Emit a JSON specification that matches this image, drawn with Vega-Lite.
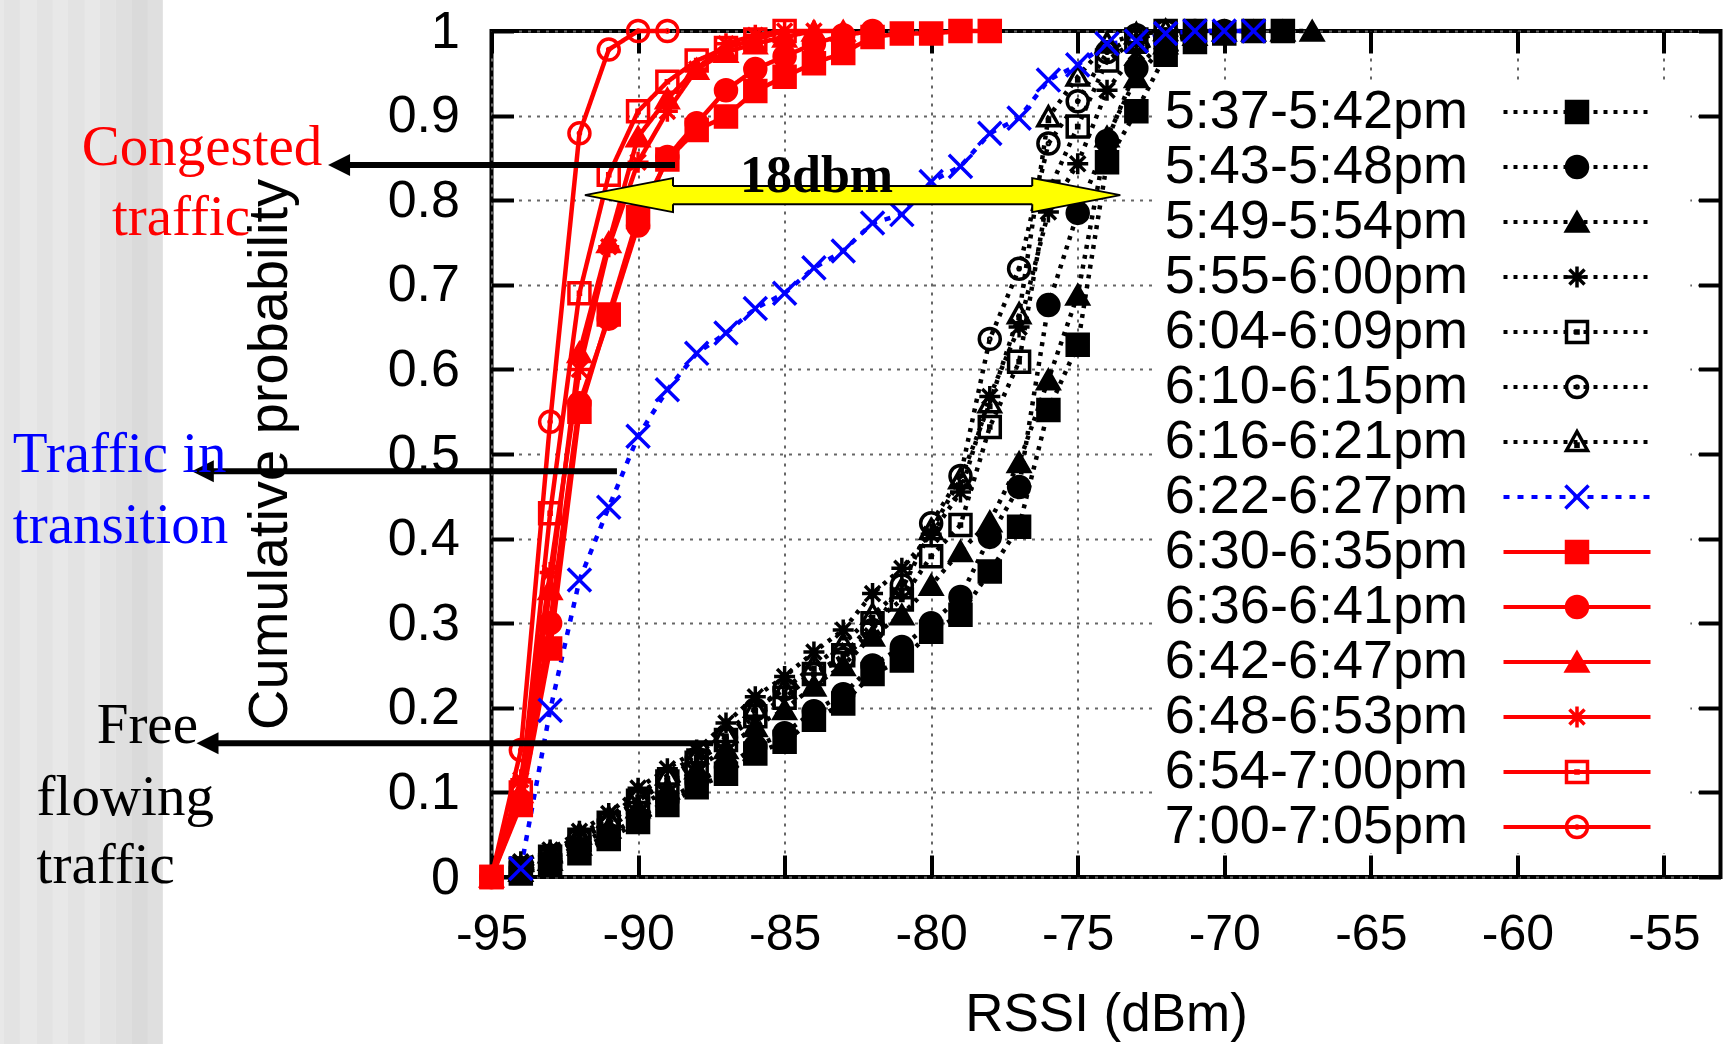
{
"$schema": "https://vega.github.io/schema/vega-lite/v6.json",
"width": 1229,
"height": 846,
"autosize": {"type": "none"},
"padding": {"left": 491.5, "top": 31, "right": 3.5, "bottom": 167},
"background": "#ffffff",
"config": {
  "view": {"stroke": "#000000", "strokeWidth": 4},
  "axis": {"labelFont": "Liberation Sans", "titleFont": "Liberation Sans", "labelColor": "#000000", "titleColor": "#000000", "tickColor": "#000000", "tickWidth": 4, "tickSize": -22, "domain": false, "labelFlush": false, "labelOverlap": false},
  "legend": {"labelFont": "Liberation Sans"}
},
"datasets": {
  "cdf": [
    {"s":"5:37-5:42pm","x":-94,"y":0.004},{"s":"5:37-5:42pm","x":-93,"y":0.014},{"s":"5:37-5:42pm","x":-92,"y":0.028},{"s":"5:37-5:42pm","x":-91,"y":0.045},{"s":"5:37-5:42pm","x":-90,"y":0.065},{"s":"5:37-5:42pm","x":-89,"y":0.085},{"s":"5:37-5:42pm","x":-88,"y":0.106},{"s":"5:37-5:42pm","x":-87,"y":0.122},{"s":"5:37-5:42pm","x":-86,"y":0.146},{"s":"5:37-5:42pm","x":-85,"y":0.16},{"s":"5:37-5:42pm","x":-84,"y":0.186},{"s":"5:37-5:42pm","x":-83,"y":0.205},{"s":"5:37-5:42pm","x":-82,"y":0.24},{"s":"5:37-5:42pm","x":-81,"y":0.256},{"s":"5:37-5:42pm","x":-80,"y":0.29},{"s":"5:37-5:42pm","x":-79,"y":0.31},{"s":"5:37-5:42pm","x":-78,"y":0.361},{"s":"5:37-5:42pm","x":-77,"y":0.414},{"s":"5:37-5:42pm","x":-76,"y":0.552},{"s":"5:37-5:42pm","x":-75,"y":0.629},{"s":"5:37-5:42pm","x":-74,"y":0.845},{"s":"5:37-5:42pm","x":-73,"y":0.905},{"s":"5:37-5:42pm","x":-72,"y":0.972},{"s":"5:37-5:42pm","x":-71,"y":0.987},{"s":"5:37-5:42pm","x":-70,"y":0.997},{"s":"5:37-5:42pm","x":-69,"y":1},{"s":"5:37-5:42pm","x":-68,"y":1},
    {"s":"5:43-5:48pm","x":-94,"y":0.005},{"s":"5:43-5:48pm","x":-93,"y":0.018},{"s":"5:43-5:48pm","x":-92,"y":0.033},{"s":"5:43-5:48pm","x":-91,"y":0.05},{"s":"5:43-5:48pm","x":-90,"y":0.07},{"s":"5:43-5:48pm","x":-89,"y":0.09},{"s":"5:43-5:48pm","x":-88,"y":0.112},{"s":"5:43-5:48pm","x":-87,"y":0.13},{"s":"5:43-5:48pm","x":-86,"y":0.154},{"s":"5:43-5:48pm","x":-85,"y":0.17},{"s":"5:43-5:48pm","x":-84,"y":0.196},{"s":"5:43-5:48pm","x":-83,"y":0.216},{"s":"5:43-5:48pm","x":-82,"y":0.25},{"s":"5:43-5:48pm","x":-81,"y":0.272},{"s":"5:43-5:48pm","x":-80,"y":0.3},{"s":"5:43-5:48pm","x":-79,"y":0.331},{"s":"5:43-5:48pm","x":-78,"y":0.402},{"s":"5:43-5:48pm","x":-77,"y":0.461},{"s":"5:43-5:48pm","x":-76,"y":0.676},{"s":"5:43-5:48pm","x":-75,"y":0.785},{"s":"5:43-5:48pm","x":-74,"y":0.87},{"s":"5:43-5:48pm","x":-73,"y":0.956},{"s":"5:43-5:48pm","x":-72,"y":0.99},{"s":"5:43-5:48pm","x":-71,"y":1},{"s":"5:43-5:48pm","x":-70,"y":1},
    {"s":"5:49-5:54pm","x":-94,"y":0.007},{"s":"5:49-5:54pm","x":-93,"y":0.02},{"s":"5:49-5:54pm","x":-92,"y":0.038},{"s":"5:49-5:54pm","x":-91,"y":0.058},{"s":"5:49-5:54pm","x":-90,"y":0.082},{"s":"5:49-5:54pm","x":-89,"y":0.104},{"s":"5:49-5:54pm","x":-88,"y":0.128},{"s":"5:49-5:54pm","x":-87,"y":0.152},{"s":"5:49-5:54pm","x":-86,"y":0.178},{"s":"5:49-5:54pm","x":-85,"y":0.198},{"s":"5:49-5:54pm","x":-84,"y":0.226},{"s":"5:49-5:54pm","x":-83,"y":0.25},{"s":"5:49-5:54pm","x":-82,"y":0.285},{"s":"5:49-5:54pm","x":-81,"y":0.31},{"s":"5:49-5:54pm","x":-80,"y":0.345},{"s":"5:49-5:54pm","x":-79,"y":0.385},{"s":"5:49-5:54pm","x":-78,"y":0.42},{"s":"5:49-5:54pm","x":-77,"y":0.49},{"s":"5:49-5:54pm","x":-76,"y":0.588},{"s":"5:49-5:54pm","x":-75,"y":0.688},{"s":"5:49-5:54pm","x":-74,"y":0.875},{"s":"5:49-5:54pm","x":-73,"y":0.945},{"s":"5:49-5:54pm","x":-72,"y":0.985},{"s":"5:49-5:54pm","x":-71,"y":0.995},{"s":"5:49-5:54pm","x":-70,"y":1},{"s":"5:49-5:54pm","x":-69,"y":1},{"s":"5:49-5:54pm","x":-68,"y":1},{"s":"5:49-5:54pm","x":-67,"y":1},
    {"s":"5:55-6:00pm","x":-94,"y":0.018},{"s":"5:55-6:00pm","x":-93,"y":0.032},{"s":"5:55-6:00pm","x":-92,"y":0.054},{"s":"5:55-6:00pm","x":-91,"y":0.075},{"s":"5:55-6:00pm","x":-90,"y":0.105},{"s":"5:55-6:00pm","x":-89,"y":0.128},{"s":"5:55-6:00pm","x":-88,"y":0.15},{"s":"5:55-6:00pm","x":-87,"y":0.182},{"s":"5:55-6:00pm","x":-86,"y":0.213},{"s":"5:55-6:00pm","x":-85,"y":0.237},{"s":"5:55-6:00pm","x":-84,"y":0.266},{"s":"5:55-6:00pm","x":-83,"y":0.292},{"s":"5:55-6:00pm","x":-82,"y":0.335},{"s":"5:55-6:00pm","x":-81,"y":0.365},{"s":"5:55-6:00pm","x":-80,"y":0.405},{"s":"5:55-6:00pm","x":-79,"y":0.455},{"s":"5:55-6:00pm","x":-78,"y":0.568},{"s":"5:55-6:00pm","x":-77,"y":0.65},{"s":"5:55-6:00pm","x":-76,"y":0.786},{"s":"5:55-6:00pm","x":-75,"y":0.843},{"s":"5:55-6:00pm","x":-74,"y":0.93},{"s":"5:55-6:00pm","x":-73,"y":0.975},{"s":"5:55-6:00pm","x":-72,"y":0.992},{"s":"5:55-6:00pm","x":-71,"y":1},{"s":"5:55-6:00pm","x":-70,"y":1},
    {"s":"6:04-6:09pm","x":-94,"y":0.01},{"s":"6:04-6:09pm","x":-93,"y":0.024},{"s":"6:04-6:09pm","x":-92,"y":0.044},{"s":"6:04-6:09pm","x":-91,"y":0.064},{"s":"6:04-6:09pm","x":-90,"y":0.09},{"s":"6:04-6:09pm","x":-89,"y":0.113},{"s":"6:04-6:09pm","x":-88,"y":0.135},{"s":"6:04-6:09pm","x":-87,"y":0.162},{"s":"6:04-6:09pm","x":-86,"y":0.19},{"s":"6:04-6:09pm","x":-85,"y":0.212},{"s":"6:04-6:09pm","x":-84,"y":0.24},{"s":"6:04-6:09pm","x":-83,"y":0.262},{"s":"6:04-6:09pm","x":-82,"y":0.3},{"s":"6:04-6:09pm","x":-81,"y":0.328},{"s":"6:04-6:09pm","x":-80,"y":0.379},{"s":"6:04-6:09pm","x":-79,"y":0.416},{"s":"6:04-6:09pm","x":-78,"y":0.532},{"s":"6:04-6:09pm","x":-77,"y":0.609},{"s":"6:04-6:09pm","x":-76,"y":0.81},{"s":"6:04-6:09pm","x":-75,"y":0.887},{"s":"6:04-6:09pm","x":-74,"y":0.965},{"s":"6:04-6:09pm","x":-73,"y":0.99},{"s":"6:04-6:09pm","x":-72,"y":1},{"s":"6:04-6:09pm","x":-71,"y":1},
    {"s":"6:10-6:15pm","x":-94,"y":0.01},{"s":"6:10-6:15pm","x":-93,"y":0.025},{"s":"6:10-6:15pm","x":-92,"y":0.046},{"s":"6:10-6:15pm","x":-91,"y":0.066},{"s":"6:10-6:15pm","x":-90,"y":0.092},{"s":"6:10-6:15pm","x":-89,"y":0.116},{"s":"6:10-6:15pm","x":-88,"y":0.14},{"s":"6:10-6:15pm","x":-87,"y":0.165},{"s":"6:10-6:15pm","x":-86,"y":0.198},{"s":"6:10-6:15pm","x":-85,"y":0.222},{"s":"6:10-6:15pm","x":-84,"y":0.24},{"s":"6:10-6:15pm","x":-83,"y":0.258},{"s":"6:10-6:15pm","x":-82,"y":0.292},{"s":"6:10-6:15pm","x":-81,"y":0.345},{"s":"6:10-6:15pm","x":-80,"y":0.418},{"s":"6:10-6:15pm","x":-79,"y":0.474},{"s":"6:10-6:15pm","x":-78,"y":0.636},{"s":"6:10-6:15pm","x":-77,"y":0.719},{"s":"6:10-6:15pm","x":-76,"y":0.867},{"s":"6:10-6:15pm","x":-75,"y":0.917},{"s":"6:10-6:15pm","x":-74,"y":0.975},{"s":"6:10-6:15pm","x":-73,"y":0.995},{"s":"6:10-6:15pm","x":-72,"y":1},
    {"s":"6:16-6:21pm","x":-94,"y":0.012},{"s":"6:16-6:21pm","x":-93,"y":0.028},{"s":"6:16-6:21pm","x":-92,"y":0.05},{"s":"6:16-6:21pm","x":-91,"y":0.07},{"s":"6:16-6:21pm","x":-90,"y":0.098},{"s":"6:16-6:21pm","x":-89,"y":0.12},{"s":"6:16-6:21pm","x":-88,"y":0.145},{"s":"6:16-6:21pm","x":-87,"y":0.17},{"s":"6:16-6:21pm","x":-86,"y":0.2},{"s":"6:16-6:21pm","x":-85,"y":0.222},{"s":"6:16-6:21pm","x":-84,"y":0.25},{"s":"6:16-6:21pm","x":-83,"y":0.275},{"s":"6:16-6:21pm","x":-82,"y":0.31},{"s":"6:16-6:21pm","x":-81,"y":0.34},{"s":"6:16-6:21pm","x":-80,"y":0.41},{"s":"6:16-6:21pm","x":-79,"y":0.47},{"s":"6:16-6:21pm","x":-78,"y":0.56},{"s":"6:16-6:21pm","x":-77,"y":0.665},{"s":"6:16-6:21pm","x":-76,"y":0.898},{"s":"6:16-6:21pm","x":-75,"y":0.946},{"s":"6:16-6:21pm","x":-74,"y":0.985},{"s":"6:16-6:21pm","x":-73,"y":0.996},{"s":"6:16-6:21pm","x":-72,"y":1},
    {"s":"6:22-6:27pm","x":-94,"y":0.01},{"s":"6:22-6:27pm","x":-93,"y":0.197},{"s":"6:22-6:27pm","x":-92,"y":0.351},{"s":"6:22-6:27pm","x":-91,"y":0.437},{"s":"6:22-6:27pm","x":-90,"y":0.521},{"s":"6:22-6:27pm","x":-89,"y":0.576},{"s":"6:22-6:27pm","x":-88,"y":0.619},{"s":"6:22-6:27pm","x":-87,"y":0.643},{"s":"6:22-6:27pm","x":-86,"y":0.672},{"s":"6:22-6:27pm","x":-85,"y":0.69},{"s":"6:22-6:27pm","x":-84,"y":0.72},{"s":"6:22-6:27pm","x":-83,"y":0.74},{"s":"6:22-6:27pm","x":-82,"y":0.773},{"s":"6:22-6:27pm","x":-81,"y":0.783},{"s":"6:22-6:27pm","x":-80,"y":0.822},{"s":"6:22-6:27pm","x":-79,"y":0.84},{"s":"6:22-6:27pm","x":-78,"y":0.879},{"s":"6:22-6:27pm","x":-77,"y":0.897},{"s":"6:22-6:27pm","x":-76,"y":0.942},{"s":"6:22-6:27pm","x":-75,"y":0.96},{"s":"6:22-6:27pm","x":-74,"y":0.985},{"s":"6:22-6:27pm","x":-73,"y":0.988},{"s":"6:22-6:27pm","x":-72,"y":0.997},{"s":"6:22-6:27pm","x":-71,"y":1},{"s":"6:22-6:27pm","x":-70,"y":1},{"s":"6:22-6:27pm","x":-69,"y":1},
    {"s":"6:30-6:35pm","x":-95,"y":0},{"s":"6:30-6:35pm","x":-94,"y":0.085},{"s":"6:30-6:35pm","x":-93,"y":0.27},{"s":"6:30-6:35pm","x":-92,"y":0.55},{"s":"6:30-6:35pm","x":-91,"y":0.665},{"s":"6:30-6:35pm","x":-90,"y":0.78},{"s":"6:30-6:35pm","x":-89,"y":0.848},{"s":"6:30-6:35pm","x":-88,"y":0.883},{"s":"6:30-6:35pm","x":-87,"y":0.899},{"s":"6:30-6:35pm","x":-86,"y":0.929},{"s":"6:30-6:35pm","x":-85,"y":0.946},{"s":"6:30-6:35pm","x":-84,"y":0.962},{"s":"6:30-6:35pm","x":-83,"y":0.974},{"s":"6:30-6:35pm","x":-82,"y":0.993},{"s":"6:30-6:35pm","x":-81,"y":0.997},{"s":"6:30-6:35pm","x":-80,"y":0.997},{"s":"6:30-6:35pm","x":-79,"y":1},{"s":"6:30-6:35pm","x":-78,"y":1},
    {"s":"6:36-6:41pm","x":-95,"y":0},{"s":"6:36-6:41pm","x":-94,"y":0.09},{"s":"6:36-6:41pm","x":-93,"y":0.3},{"s":"6:36-6:41pm","x":-92,"y":0.56},{"s":"6:36-6:41pm","x":-91,"y":0.66},{"s":"6:36-6:41pm","x":-90,"y":0.77},{"s":"6:36-6:41pm","x":-89,"y":0.851},{"s":"6:36-6:41pm","x":-88,"y":0.891},{"s":"6:36-6:41pm","x":-87,"y":0.93},{"s":"6:36-6:41pm","x":-86,"y":0.955},{"s":"6:36-6:41pm","x":-85,"y":0.97},{"s":"6:36-6:41pm","x":-84,"y":0.985},{"s":"6:36-6:41pm","x":-83,"y":0.995},{"s":"6:36-6:41pm","x":-82,"y":1},
    {"s":"6:42-6:47pm","x":-95,"y":0},{"s":"6:42-6:47pm","x":-94,"y":0.1},{"s":"6:42-6:47pm","x":-93,"y":0.34},{"s":"6:42-6:47pm","x":-92,"y":0.62},{"s":"6:42-6:47pm","x":-91,"y":0.75},{"s":"6:42-6:47pm","x":-90,"y":0.875},{"s":"6:42-6:47pm","x":-89,"y":0.92},{"s":"6:42-6:47pm","x":-88,"y":0.955},{"s":"6:42-6:47pm","x":-87,"y":0.975},{"s":"6:42-6:47pm","x":-86,"y":0.985},{"s":"6:42-6:47pm","x":-85,"y":0.993},{"s":"6:42-6:47pm","x":-84,"y":1},{"s":"6:42-6:47pm","x":-83,"y":1},
    {"s":"6:48-6:53pm","x":-95,"y":0},{"s":"6:48-6:53pm","x":-94,"y":0.115},{"s":"6:48-6:53pm","x":-93,"y":0.36},{"s":"6:48-6:53pm","x":-92,"y":0.6},{"s":"6:48-6:53pm","x":-91,"y":0.745},{"s":"6:48-6:53pm","x":-90,"y":0.845},{"s":"6:48-6:53pm","x":-89,"y":0.905},{"s":"6:48-6:53pm","x":-88,"y":0.955},{"s":"6:48-6:53pm","x":-87,"y":0.985},{"s":"6:48-6:53pm","x":-86,"y":0.995},{"s":"6:48-6:53pm","x":-85,"y":1},{"s":"6:48-6:53pm","x":-84,"y":1},
    {"s":"6:54-7:00pm","x":-95,"y":0},{"s":"6:54-7:00pm","x":-94,"y":0.1},{"s":"6:54-7:00pm","x":-93,"y":0.43},{"s":"6:54-7:00pm","x":-92,"y":0.69},{"s":"6:54-7:00pm","x":-91,"y":0.83},{"s":"6:54-7:00pm","x":-90,"y":0.905},{"s":"6:54-7:00pm","x":-89,"y":0.94},{"s":"6:54-7:00pm","x":-88,"y":0.965},{"s":"6:54-7:00pm","x":-87,"y":0.98},{"s":"6:54-7:00pm","x":-86,"y":0.99},{"s":"6:54-7:00pm","x":-85,"y":1},
    {"s":"7:00-7:05pm","x":-95,"y":0},{"s":"7:00-7:05pm","x":-94,"y":0.15},{"s":"7:00-7:05pm","x":-93,"y":0.538},{"s":"7:00-7:05pm","x":-92,"y":0.879},{"s":"7:00-7:05pm","x":-91,"y":0.978},{"s":"7:00-7:05pm","x":-90,"y":1},{"s":"7:00-7:05pm","x":-89,"y":1}
  ],
  "stripes": [
    {"a":-112,"b":-111.638,"t":"l"},{"a":-111.638,"b":-111.092,"t":"d"},{"a":-111.092,"b":-110.512,"t":"l"},{"a":-110.512,"b":-109.966,"t":"d"},{"a":-109.966,"b":-109.454,"t":"l"},{"a":-109.454,"b":-108.874,"t":"d"},{"a":-108.874,"b":-108.362,"t":"l"},{"a":-108.362,"b":-107.816,"t":"d"},{"a":-107.816,"b":-107.27,"t":"p"},{"a":-107.27,"b":-106.724,"t":"m"},{"a":-106.724,"b":-106.212,"t":"p"}
  ],
  "box": [{"x":-72.35,"x2":-54.1,"y":0.9385,"y2":0.0284}],
  "shaft": [{"x":-88.95,"x2":-76.41,"y":0.7951,"y2":0.8169}],
  "edges": [{"x":-88.81,"x2":-76.55,"y":0.8169},{"x":-88.81,"x2":-76.55,"y":0.7951}],
  "headl": [{"x":-90.31,"y":0.806}],
  "headr": [{"x":-75.05,"y":0.806}],
  "arrows": [
    {"x1":-100.2,"x2":-88.74,"y":0.8416},{"x1":-104.85,"x2":-90.72,"y":0.4795},{"x1":-104.69,"x2":-87.44,"y":0.158}
  ],
  "notes": [
    {"t":"Congested","x":-108.98,"y":0.8416,"k":"r"},{"t":"traffic","x":-107.95,"y":0.7589,"k":"r"},
    {"t":"Traffic in","x":-111.33,"y":0.4791,"k":"b"},{"t":"transition","x":-111.33,"y":0.3944,"k":"b"},
    {"t":"Free","x":-108.47,"y":0.158,"k":"k"},{"t":"flowing","x":-110.52,"y":0.0733,"k":"k"},{"t":"traffic","x":-110.52,"y":-0.0075,"k":"k"},
    {"t":"18dbm","x":-83.91,"y":0.8101,"k":"bold"}
  ]
},
"layer": [
  {
    "data": {"name": "stripes"},
    "mark": {"type": "rect", "color": "#000000", "clip": false},
    "encoding": {
      "x": {"field": "a", "type": "quantitative", "scale": {"domain": [-95, -53.07], "nice": false, "zero": false}, "axis": null},
      "x2": {"field": "b"},
      "y": {"datum": 1.04, "type": "quantitative", "scale": {"domain": [0, 1], "nice": false, "zero": false}, "axis": null},
      "y2": {"datum": -0.2},
      "opacity": {"field": "t", "type": "nominal", "scale": {"domain": ["l", "d", "p", "m"], "range": [0.09, 0.145, 0.045, 0.075]}, "legend": null}
    }
  },
  {
    "data": {"name": "box"},
    "mark": {"type": "rect", "color": "#ffffff", "opacity": 1},
    "encoding": {
      "x": {"field": "x", "type": "quantitative", "scale": {"domain": [-95, -53.07], "nice": false, "zero": false}, "axis": null},
      "x2": {"field": "x2"},
      "y": {"field": "y", "type": "quantitative", "scale": {"domain": [0, 1], "nice": false, "zero": false}, "axis": null},
      "y2": {"field": "y2"}
    }
  },
  {
    "data": {"name": "cdf"},
    "mark": {"type": "line", "strokeWidth": 4.5},
    "encoding": {
      "x": {"field": "x", "type": "quantitative", "scale": {"domain": [-95, -53.07], "nice": false, "zero": false},
        "axis": {"orient": "bottom", "values": [-95, -90, -85, -80, -75, -70, -65, -60, -55], "labelExpr": "'' + datum.value", "labelFontSize": 50, "labelPadding": 54, "grid": true, "gridColor": "#666666", "gridDash": [3, 6], "gridWidth": 2, "title": "RSSI (dBm)", "titleFontSize": 53, "titleFontWeight": "normal", "titleY": 153, "titleBaseline": "alphabetic"}},
      "y": {"field": "y", "type": "quantitative", "scale": {"domain": [0, 1], "nice": false, "zero": false},
        "axis": {"orient": "left", "values": [0, 0.1, 0.2, 0.3, 0.4, 0.5, 0.6, 0.7, 0.8, 0.9, 1], "format": ".1~f", "labelFontSize": 52, "labelPadding": 54, "grid": true, "gridColor": "#666666", "gridDash": [3, 6], "gridWidth": 2, "title": "Cumulative probability", "titleFontSize": 56, "titleFontWeight": "normal", "titleX": -222.5, "titleY": 423, "titleAngle": 270, "titleBaseline": "middle", "titleAlign": "center"}},
      "stroke": {"field": "s", "type": "nominal",
        "scale": {"range": ["#000000", "#000000", "#000000", "#000000", "#000000", "#000000", "#000000", "#0000ff", "#ff0000", "#ff0000", "#ff0000", "#ff0000", "#ff0000", "#ff0000"]},
        "legend": {"orient": "none", "legendX": 1058.5, "legendY": 54, "title": null, "labelFontSize": 54, "labelExpr": "' '", "symbolType": "M-7,0L7,0", "symbolSize": 441, "symbolStrokeWidth": 4, "rowPadding": 1, "padding": 0, "labelLimit": 500}},
      "strokeDash": {"field": "s", "type": "nominal",
        "scale": {"range": [[4, 6], [4, 6], [4, 6], [4, 6], [4, 6], [4, 6], [4, 6], [6, 8], [1, 0], [1, 0], [1, 0], [1, 0], [1, 0], [1, 0]]},
        "legend": {"orient": "none", "legendX": 1058.5, "legendY": 54, "title": null, "labelFontSize": 54, "labelExpr": "' '", "symbolType": "M-7,0L7,0", "symbolSize": 441, "symbolStrokeWidth": 4, "rowPadding": 1, "padding": 0, "labelLimit": 500}}
    }
  },
  {
    "data": {"name": "cdf"},
    "mark": {"type": "point", "size": 441, "strokeWidth": 3.5, "opacity": 1},
    "encoding": {
      "x": {"field": "x", "type": "quantitative", "scale": {"domain": [-95, -53.07], "nice": false, "zero": false},
        "axis": {"orient": "top", "values": [-95, -90, -85, -80, -75, -70, -65, -60, -55], "labels": false, "grid": false, "title": null}},
      "y": {"field": "y", "type": "quantitative", "scale": {"domain": [0, 1], "nice": false, "zero": false},
        "axis": {"orient": "right", "values": [0, 0.1, 0.2, 0.3, 0.4, 0.5, 0.6, 0.7, 0.8, 0.9, 1], "labels": false, "grid": false, "title": null}},
      "color": {"field": "s", "type": "nominal",
        "scale": {"domain": ["5:37-5:42pm", "5:43-5:48pm", "5:49-5:54pm", "5:55-6:00pm", "6:04-6:09pm", "6:10-6:15pm", "6:16-6:21pm", "6:22-6:27pm", "6:30-6:35pm", "6:36-6:41pm", "6:42-6:47pm", "6:48-6:53pm", "6:54-7:00pm", "7:00-7:05pm"],
          "range": ["#000000", "#000000", "#000000", "#000000", "#000000", "#000000", "#000000", "#0000ff", "#ff0000", "#ff0000", "#ff0000", "#ff0000", "#ff0000", "#ff0000"]},
        "legend": {"orient": "none", "legendX": 1058.5, "legendY": 54, "title": null, "labelFontSize": 54, "labelColor": "#000000", "labelAlign": "right", "labelOffset": -136, "labelLimit": 500, "symbolSize": 441, "symbolStrokeWidth": 3.5, "rowPadding": 1, "padding": 0}},
      "fill": {"field": "s", "type": "nominal",
        "scale": {"domain": ["5:37-5:42pm", "5:43-5:48pm", "5:49-5:54pm", "5:55-6:00pm", "6:04-6:09pm", "6:10-6:15pm", "6:16-6:21pm", "6:22-6:27pm", "6:30-6:35pm", "6:36-6:41pm", "6:42-6:47pm", "6:48-6:53pm", "6:54-7:00pm", "7:00-7:05pm"],
          "range": ["#000000", "#000000", "#000000", "transparent", "transparent", "transparent", "transparent", "transparent", "#ff0000", "#ff0000", "#ff0000", "transparent", "transparent", "transparent"]},
        "legend": {"orient": "none", "legendX": 1058.5, "legendY": 54, "title": null, "labelFontSize": 54, "labelColor": "#000000", "labelAlign": "right", "labelOffset": -136, "labelLimit": 500, "symbolSize": 441, "symbolStrokeWidth": 3.5, "rowPadding": 1, "padding": 0}},
      "shape": {"field": "s", "type": "nominal",
        "scale": {"domain": ["5:37-5:42pm", "5:43-5:48pm", "5:49-5:54pm", "5:55-6:00pm", "6:04-6:09pm", "6:10-6:15pm", "6:16-6:21pm", "6:22-6:27pm", "6:30-6:35pm", "6:36-6:41pm", "6:42-6:47pm", "6:48-6:53pm", "6:54-7:00pm", "7:00-7:05pm"],
          "range": ["square", "circle", "triangle-up",
            "M-1,0L1,0M0,-1L0,1M-0.72,-0.72L0.72,0.72M-0.72,0.72L0.72,-0.72",
            "M-1,-1L1,-1L1,1L-1,1Z M-0.1,-0.1L0.1,-0.1L0.1,0.1L-0.1,0.1Z",
            "M-1,0A1,1,0,1,1,1,0A1,1,0,1,1,-1,0Z M-0.1,0A0.1,0.1,0,1,1,0.1,0A0.1,0.1,0,1,1,-0.1,0Z",
            "M0,-1L1,0.8L-1,0.8Z M-0.1,0.2L0.1,0.2L0.1,0.4L-0.1,0.4Z",
            "M-1.1,-1.1L1.1,1.1M-1.1,1.1L1.1,-1.1",
            "square", "circle", "triangle-up",
            "M-1,0L1,0M0,-1L0,1M-0.72,-0.72L0.72,0.72M-0.72,0.72L0.72,-0.72",
            "M-1,-1L1,-1L1,1L-1,1Z M-0.1,-0.1L0.1,-0.1L0.1,0.1L-0.1,0.1Z",
            "M-1,0A1,1,0,1,1,1,0A1,1,0,1,1,-1,0Z M-0.1,0A0.1,0.1,0,1,1,0.1,0A0.1,0.1,0,1,1,-0.1,0Z"]},
        "legend": {"orient": "none", "legendX": 1058.5, "legendY": 54, "title": null, "labelFontSize": 54, "labelColor": "#000000", "labelAlign": "right", "labelOffset": -136, "labelLimit": 500, "symbolSize": 441, "symbolStrokeWidth": 3.5, "rowPadding": 1, "padding": 0}}
    }
  },
  {
    "data": {"name": "headl"},
    "mark": {"type": "point", "shape": "M-2.59,0L2.59,-1L2.59,1Z", "size": 1156, "filled": true, "fill": "#ffff00", "stroke": "#000000", "strokeWidth": 2, "opacity": 1, "clip": false},
    "encoding": {
      "x": {"field": "x", "type": "quantitative", "scale": {"domain": [-95, -53.07], "nice": false, "zero": false}, "axis": null},
      "y": {"field": "y", "type": "quantitative", "scale": {"domain": [0, 1], "nice": false, "zero": false}, "axis": null}
    }
  },
  {
    "data": {"name": "headr"},
    "mark": {"type": "point", "shape": "M2.59,0L-2.59,-1L-2.59,1Z", "size": 1156, "filled": true, "fill": "#ffff00", "stroke": "#000000", "strokeWidth": 2, "opacity": 1, "clip": false},
    "encoding": {
      "x": {"field": "x", "type": "quantitative", "scale": {"domain": [-95, -53.07], "nice": false, "zero": false}, "axis": null},
      "y": {"field": "y", "type": "quantitative", "scale": {"domain": [0, 1], "nice": false, "zero": false}, "axis": null}
    }
  },
  {
    "data": {"name": "shaft"},
    "mark": {"type": "rect", "color": "#ffff00", "opacity": 1, "clip": false},
    "encoding": {
      "x": {"field": "x", "type": "quantitative", "scale": {"domain": [-95, -53.07], "nice": false, "zero": false}, "axis": null},
      "x2": {"field": "x2"},
      "y": {"field": "y", "type": "quantitative", "scale": {"domain": [0, 1], "nice": false, "zero": false}, "axis": null},
      "y2": {"field": "y2"}
    }
  },
  {
    "data": {"name": "edges"},
    "mark": {"type": "rule", "strokeWidth": 2, "color": "#000000", "clip": false},
    "encoding": {
      "x": {"field": "x", "type": "quantitative", "scale": {"domain": [-95, -53.07], "nice": false, "zero": false}, "axis": null},
      "x2": {"field": "x2"},
      "y": {"field": "y", "type": "quantitative", "scale": {"domain": [0, 1], "nice": false, "zero": false}, "axis": null}
    }
  },
  {
    "data": {"name": "arrows"},
    "mark": {"type": "rule", "strokeWidth": 6, "color": "#000000", "clip": false},
    "encoding": {
      "x": {"field": "x1", "type": "quantitative", "scale": {"domain": [-95, -53.07], "nice": false, "zero": false}, "axis": null},
      "x2": {"field": "x2"},
      "y": {"field": "y", "type": "quantitative", "scale": {"domain": [0, 1], "nice": false, "zero": false}, "axis": null}
    }
  },
  {
    "data": {"name": "arrows"},
    "mark": {"type": "point", "shape": "M-1,0L1,-1L1,1Z", "size": 484, "filled": true, "color": "#000000", "opacity": 1, "clip": false},
    "encoding": {
      "x": {"field": "x1", "type": "quantitative", "scale": {"domain": [-95, -53.07], "nice": false, "zero": false}, "axis": null},
      "y": {"field": "y", "type": "quantitative", "scale": {"domain": [0, 1], "nice": false, "zero": false}, "axis": null}
    }
  },
  {
    "data": {"name": "notes"},
    "transform": [{"filter": "datum.k == 'r'"}],
    "mark": {"type": "text", "align": "left", "baseline": "alphabetic", "font": "Liberation Serif", "fontSize": 57, "color": "#ff0000", "clip": false},
    "encoding": {
      "x": {"field": "x", "type": "quantitative", "scale": {"domain": [-95, -53.07], "nice": false, "zero": false}, "axis": null},
      "y": {"field": "y", "type": "quantitative", "scale": {"domain": [0, 1], "nice": false, "zero": false}, "axis": null},
      "text": {"field": "t"}
    }
  },
  {
    "data": {"name": "notes"},
    "transform": [{"filter": "datum.k == 'b'"}],
    "mark": {"type": "text", "align": "left", "baseline": "alphabetic", "font": "Liberation Serif", "fontSize": 57, "color": "#0000ff", "clip": false},
    "encoding": {
      "x": {"field": "x", "type": "quantitative", "scale": {"domain": [-95, -53.07], "nice": false, "zero": false}, "axis": null},
      "y": {"field": "y", "type": "quantitative", "scale": {"domain": [0, 1], "nice": false, "zero": false}, "axis": null},
      "text": {"field": "t"}
    }
  },
  {
    "data": {"name": "notes"},
    "transform": [{"filter": "datum.k == 'k'"}],
    "mark": {"type": "text", "align": "left", "baseline": "alphabetic", "font": "Liberation Serif", "fontSize": 57, "color": "#000000", "clip": false},
    "encoding": {
      "x": {"field": "x", "type": "quantitative", "scale": {"domain": [-95, -53.07], "nice": false, "zero": false}, "axis": null},
      "y": {"field": "y", "type": "quantitative", "scale": {"domain": [0, 1], "nice": false, "zero": false}, "axis": null},
      "text": {"field": "t"}
    }
  },
  {
    "data": {"name": "notes"},
    "transform": [{"filter": "datum.k == 'bold'"}],
    "mark": {"type": "text", "align": "center", "baseline": "alphabetic", "font": "Liberation Serif", "fontSize": 52, "fontWeight": "bold", "color": "#000000", "clip": false},
    "encoding": {
      "x": {"field": "x", "type": "quantitative", "scale": {"domain": [-95, -53.07], "nice": false, "zero": false}, "axis": null},
      "y": {"field": "y", "type": "quantitative", "scale": {"domain": [0, 1], "nice": false, "zero": false}, "axis": null},
      "text": {"field": "t"}
    }
  }
],
"resolve": {"axis": {"x": "independent", "y": "independent"}}
}
